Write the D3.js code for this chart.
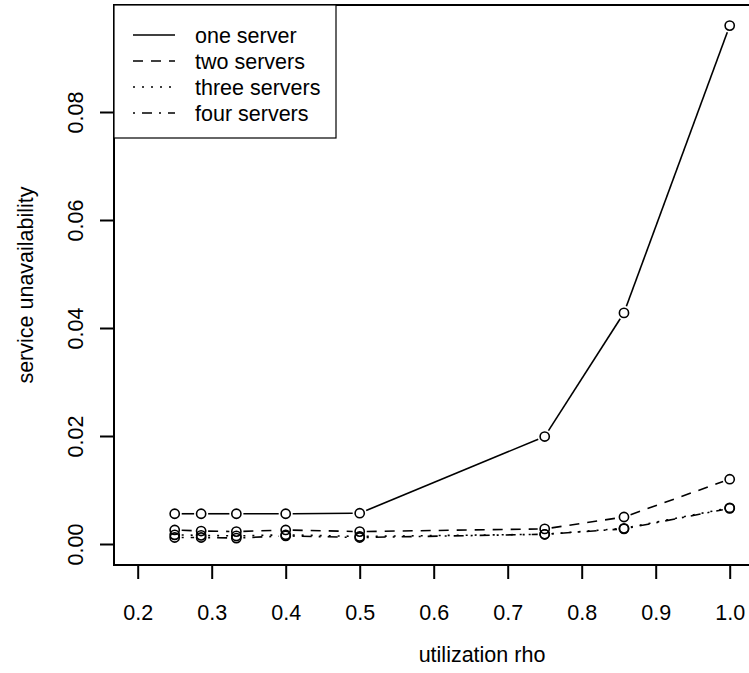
<!DOCTYPE html>
<html>
<head>
<meta charset="utf-8">
<script src="https://cdn.jsdelivr.net/npm/d3@7"></script>
<style>
  body { margin: 0; background: #fff; }
  svg { display: block; font-family: "Liberation Sans", Arial, sans-serif; }
</style>
</head>
<body>
<svg width="749" height="673"></svg>
<script>
// utilization values (x) and unavailability per number of servers
const rho = [0.25, 2 / 7, 1 / 3, 0.4, 0.5, 0.75, 6 / 7, 1.0];
const oneServer = [0.0056, 0.0056, 0.0056, 0.0056, 0.0057, 0.0199, 0.0428, 0.0960];
const twoServers = [0.0026, 0.0024, 0.0023, 0.0026, 0.0023, 0.0028, 0.0050, 0.0120];
const threeServers = [0.0017, 0.0016, 0.0015, 0.0017, 0.0014, 0.0018, 0.0029, 0.0067];
const fourServers = [0.0012, 0.0012, 0.0011, 0.0015, 0.0012, 0.0018, 0.0028, 0.0066];
const seriesNames = ['one server', 'two servers', 'three servers', 'four servers'];
const xTicks = [0.2, 0.3, 0.4, 0.5, 0.6, 0.7, 0.8, 0.9, 1.0];
const yTicks = [0, 0.02, 0.04, 0.06, 0.08];

const dashes = ['none', '10,8', '2,7', '2,7,10,7'];
const series = [oneServer, twoServers, threeServers, fourServers].map((vals, i) => ({
  name: seriesNames[i],
  dash: dashes[i],
  points: vals.map((v, j) => ({ x: rho[j], y: v })),
}));

const frame = { left: 114, right: 760, top: 5, bottom: 565 };
const xScale = d3.scaleLinear().domain([0.2, 1.0]).range([137.7, 729.7]);
const yScale = d3.scaleLinear().domain([0, 0.08]).range([544, 112]);

const svg = d3.select('svg');
const fontSize = 21.5;

// frame
svg.append('rect')
  .attr('x', frame.left).attr('y', frame.top)
  .attr('width', frame.right - frame.left).attr('height', frame.bottom - frame.top)
  .attr('fill', 'none').attr('stroke', '#000').attr('stroke-width', 2);

// axes
const xAxis = svg.append('g')
  .attr('transform', `translate(0,${frame.bottom})`)
  .call(d3.axisBottom(xScale).tickValues(xTicks).tickSize(14).tickFormat(d3.format('.1f')));
const yAxis = svg.append('g')
  .attr('transform', `translate(${frame.left},0)`)
  .call(d3.axisLeft(yScale).tickValues(yTicks).tickSize(14).tickFormat(d3.format('.2f')));

[xAxis, yAxis].forEach(g => {
  g.select('.domain').remove();
  g.selectAll('line').attr('stroke', '#000').attr('stroke-width', 2);
  g.selectAll('text').attr('fill', '#000').attr('font-size', fontSize)
    .attr('font-family', '"Liberation Sans", Arial, sans-serif');
});
xAxis.selectAll('text').attr('dy', null).attr('y', 55);
yAxis.selectAll('text')
  .attr('x', null).attr('dy', null).attr('y', null)
  .attr('text-anchor', 'middle')
  .attr('transform', 'translate(-31,0) rotate(-90)');

// axis titles
svg.append('text')
  .attr('x', 482).attr('y', 662)
  .attr('text-anchor', 'middle').attr('font-size', fontSize)
  .text('utilization rho');
svg.append('text')
  .attr('transform', `translate(33,${(frame.top + frame.bottom) / 2}) rotate(-90)`)
  .attr('text-anchor', 'middle').attr('font-size', fontSize)
  .text('service unavailability');

// lines with gaps around points (type = "b")
const gap = 7;
series.forEach(s => {
  const segs = [];
  for (let i = 0; i < s.points.length - 1; i++) {
    const x0 = xScale(s.points[i].x), y0 = yScale(s.points[i].y);
    const x1 = xScale(s.points[i + 1].x), y1 = yScale(s.points[i + 1].y);
    const len = Math.hypot(x1 - x0, y1 - y0);
    if (len <= 2 * gap) continue;
    const ux = (x1 - x0) / len, uy = (y1 - y0) / len;
    segs.push([[x0 + ux * gap, y0 + uy * gap], [x1 - ux * gap, y1 - uy * gap]]);
  }
  svg.append('g').selectAll('line').data(segs).enter().append('line')
    .attr('x1', d => d[0][0]).attr('y1', d => d[0][1])
    .attr('x2', d => d[1][0]).attr('y2', d => d[1][1])
    .attr('stroke', '#000').attr('stroke-width', 1.6)
    .attr('stroke-dasharray', s.dash);
  svg.append('g').selectAll('circle').data(s.points).enter().append('circle')
    .attr('cx', d => xScale(d.x)).attr('cy', d => yScale(d.y)).attr('r', 4.6)
    .attr('fill', 'none').attr('stroke', '#000').attr('stroke-width', 1.6);
});

// legend
const legend = svg.append('g');
legend.append('rect')
  .attr('x', frame.left).attr('y', frame.top)
  .attr('width', 336 - frame.left).attr('height', 138 - frame.top)
  .attr('fill', '#fff').attr('stroke', '#000').attr('stroke-width', 1.2);
const rowY = d3.scalePoint().domain(seriesNames).range([35, 113]);
series.forEach(s => {
  legend.append('line')
    .attr('x1', 133).attr('x2', 175)
    .attr('y1', rowY(s.name)).attr('y2', rowY(s.name))
    .attr('stroke', '#000').attr('stroke-width', 1.6)
    .attr('stroke-dasharray', s.dash);
  legend.append('text')
    .attr('x', 195).attr('y', rowY(s.name)).attr('dy', '0.35em')
    .attr('font-size', fontSize)
    .text(s.name);
});
</script>
</body>
</html>
